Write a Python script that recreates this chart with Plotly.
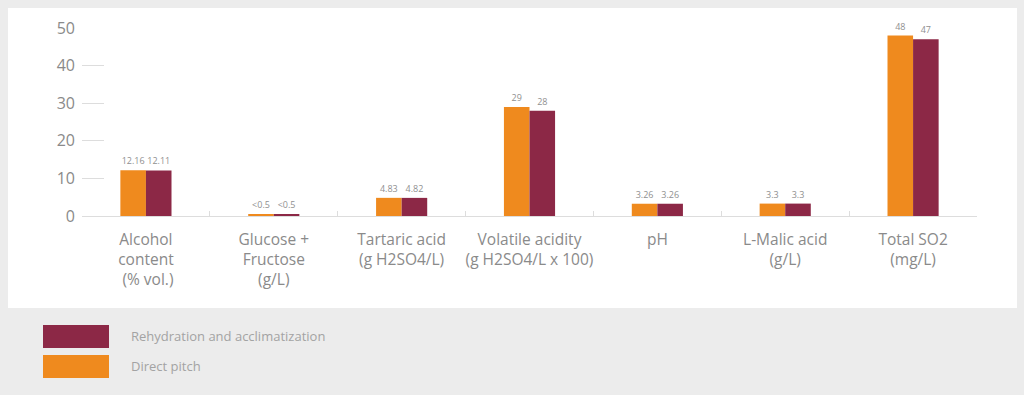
import plotly.graph_objects as go

categories = [
    "Alcohol<br>content<br> (% vol.)",
    "Glucose +<br>Fructose<br>(g/L)",
    "Tartaric acid<br>(g H2SO4/L)",
    "Volatile acidity<br>(g H2SO4/L x 100)",
    "pH",
    "L-Malic acid<br>(g/L)",
    "Total SO2<br>(mg/L)",
]
direct_pitch = [12.16, 0.5, 4.83, 29, 3.26, 3.3, 48]
direct_labels = ["12.16", "<0.5", "4.83", "29", "3.26", "3.3", "48"]
rehydration = [12.11, 0.5, 4.82, 28, 3.26, 3.3, 47]
rehydration_labels = ["12.11", "<0.5", "4.82", "28", "3.26", "3.3", "47"]
y_ticks = [0, 10, 20, 30, 40, 50]

ORANGE = "#ef8a1e"
MAROON = "#8c2846"
TXT = "#8a8a8a"

W, H = 1024, 395
L, R, T, B = 82, 977, 28, 216


def px(x):
    return (x - L) / (R - L)


def py(y):
    return (B - y) / (B - T)


fig = go.Figure()
fig.add_trace(go.Bar(
    x=categories, y=direct_pitch, name="Direct pitch",
    marker=dict(color=ORANGE, line=dict(width=0)),
    text=direct_labels, textposition="outside",
    textfont=dict(size=9, color="#909090"), cliponaxis=False,
))
fig.add_trace(go.Bar(
    x=categories, y=rehydration, name="Rehydration and acclimatization",
    marker=dict(color=MAROON, line=dict(width=0)),
    text=rehydration_labels, textposition="outside",
    textfont=dict(size=9, color="#909090"), cliponaxis=False,
))

shapes = [
    dict(type="rect", xref="paper", yref="paper", x0=px(8), x1=px(1017),
         y0=py(308), y1=py(8), fillcolor="white", line=dict(width=0), layer="below"),
    dict(type="rect", xref="paper", yref="paper", x0=px(43), x1=px(109),
         y0=py(348), y1=py(325), fillcolor=MAROON, line=dict(width=0)),
    dict(type="rect", xref="paper", yref="paper", x0=px(43), x1=px(109),
         y0=py(378), y1=py(355), fillcolor=ORANGE, line=dict(width=0)),
]
annotations = [
    dict(xref="paper", yref="paper", x=px(129), y=py(336), xanchor="left", yanchor="middle",
         text="Rehydration and acclimatization", showarrow=False,
         font=dict(size=13, color="#a3a3a3")),
    dict(xref="paper", yref="paper", x=px(129), y=py(366), xanchor="left", yanchor="middle",
         text="Direct pitch", showarrow=False, font=dict(size=13, color="#a3a3a3")),
]

fig.update_layout(
    width=W, height=H,
    margin=dict(l=L, r=W - R, t=T, b=H - B, pad=0),
    paper_bgcolor="#ececec", plot_bgcolor="white",
    font=dict(family="Open Sans", color=TXT),
    barmode="group", bargap=0.6, bargroupgap=0,
    showlegend=False,
    shapes=shapes, annotations=annotations,
    xaxis=dict(
        showline=True, linecolor="#dddddd", linewidth=1,
        ticks="inside", ticklen=5, tickcolor="#dddddd", tickson="boundaries",
        tickfont=dict(size=15.5, color=TXT), showgrid=False, tickangle=0,
        ticklabelstandoff=9,
    ),
    yaxis=dict(
        range=[0, 50], tickvals=y_ticks, showgrid=False, zeroline=False,
        showline=False, ticks="inside", ticklen=22, tickcolor="#dddddd",
        tickfont=dict(size=16, color=TXT), ticklabelstandoff=6,
    ),
)

fig.write_html(
    "out.html",
    config={"displayModeBar": False},
    post_script="document.body.style.margin='0';document.body.style.background='#ececec';",
)
